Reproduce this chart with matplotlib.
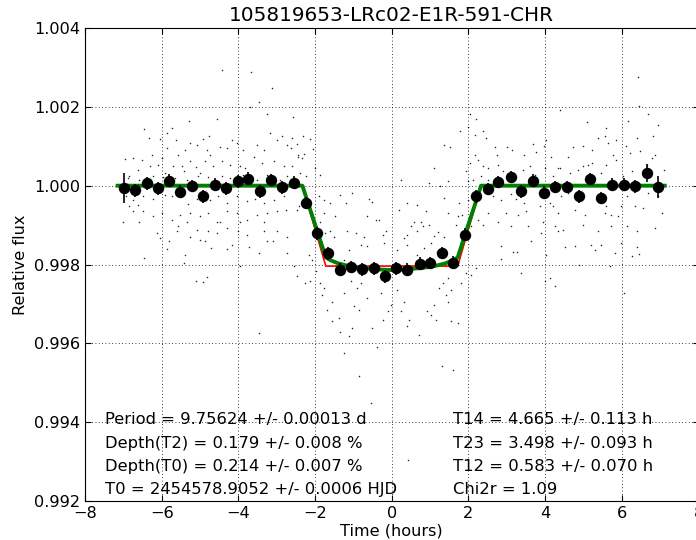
import numpy as np
import matplotlib
matplotlib.use("Agg")
import matplotlib.pyplot as plt

title = "105819653-LRc02-E1R-591-CHR"

# binned light curve (hours, relative flux, error)
bin_t = [-6.98, -6.69, -6.39, -6.10, -5.80, -5.52, -5.21, -4.92, -4.62, -4.33, -4.02, -3.74,
         -3.43, -3.14, -2.85, -2.55, -2.24, -1.96, -1.66, -1.35, -1.05, -0.77, -0.47, -0.18,
         0.12, 0.41, 0.73, 1.01, 1.32, 1.60, 1.91, 2.20, 2.51, 2.78, 3.10, 3.38,
         3.69, 3.98, 4.27, 4.57, 4.88, 5.16, 5.46, 5.75, 6.07, 6.35, 6.66, 6.94]
bin_f = [0.99994, 0.99988, 1.00006, 0.99993, 1.00013, 0.99985, 0.99999, 0.99973, 1.00003, 0.99993, 1.00011, 1.00018,
         0.99986, 1.00014, 0.99996, 1.00008, 0.99956, 0.99879, 0.99828, 0.99787, 0.99794, 0.99788, 0.99790, 0.99770,
         0.99790, 0.99787, 0.99802, 0.99804, 0.99829, 0.99805, 0.99876, 0.99973, 0.99992, 1.00009, 1.00022, 0.99986,
         1.00013, 0.99982, 0.99997, 0.99997, 0.99973, 1.00017, 0.99969, 1.00003, 1.00003, 0.99998, 1.00032, 0.99997]
bin_e = [0.00038, 0.00016, 0.00016, 0.00016, 0.00016, 0.00016, 0.00016, 0.00016, 0.00016, 0.00016, 0.00016, 0.00016,
         0.00016, 0.00016, 0.00016, 0.00016, 0.00016, 0.00016, 0.00016, 0.00016, 0.00016, 0.00016, 0.00016, 0.00016,
         0.00016, 0.00016, 0.00016, 0.00016, 0.00016, 0.00016, 0.00016, 0.00016, 0.00016, 0.00016, 0.00016, 0.00016,
         0.00016, 0.00016, 0.00016, 0.00016, 0.00016, 0.00016, 0.00016, 0.00016, 0.00016, 0.00016, 0.00022, 0.00028]

# limb darkened model (green) and trapezoid (red)
model_t = [-7.15, -2.33, -2.2, -2.0, -1.85, -1.72, -1.6, -1.4, -1.2, -1.0, -0.75, -0.5, -0.25, 0.0,
           0.25, 0.5, 0.75, 1.0, 1.2, 1.4, 1.6, 1.72, 1.85, 2.0, 2.2, 2.33, 7.12]
model_f = [1.0, 1.0, 0.99961, 0.99902, 0.99857, 0.99818, 0.99811, 0.99803, 0.99798, 0.99794, 0.99791, 0.99789, 0.99787, 0.99786,
           0.99787, 0.99789, 0.99791, 0.99794, 0.99798, 0.99803, 0.99811, 0.99818, 0.99857, 0.99902, 0.99961, 1.0, 1.0]
trap_t = [-7.15, -2.33, -1.72, 1.72, 2.33, 7.12]
trap_f = [1.0, 1.0, 0.99796, 0.99796, 1.0, 1.0]

# unbinned photometry
dots = [
    (-4.43, 1.00293), (-3.68, 1.00288), (-3.12, 1.00248), (-3.47, 1.00213), (-3.69, 1.00199), (-5.29, 1.00163),
    (-4.56, 1.00170), (-3.25, 1.00181), (-6.47, 1.00144), (-5.74, 1.00146), (-5.85, 1.00134), (-5.63, 1.00117),
    (-6.05, 1.00118), (-6.34, 1.00121), (-4.91, 1.00118), (-4.76, 1.00127), (-5.26, 1.00108), (-5.87, 1.00096),
    (-5.39, 1.00091), (-5.57, 1.00079), (-5.09, 1.00102), (-4.83, 1.00091), (-4.47, 1.00097), (-4.30, 1.00096),
    (-4.17, 1.00117), (-4.04, 1.00108), (-3.87, 1.00091), (-3.52, 1.00102), (-3.34, 1.00091), (-3.17, 1.00134),
    (-3.00, 1.00117), (-2.86, 1.00125), (-2.73, 1.00102), (-6.96, 1.00068), (-6.75, 1.00070), (-6.50, 1.00064),
    (-6.26, 1.00079), (-6.00, 1.00070), (-5.70, 1.00051), (-5.48, 1.00049), (-5.26, 1.00062), (-5.10, 1.00047),
    (-4.87, 1.00062), (-4.65, 1.00051), (-4.43, 1.00062), (-4.22, 1.00053), (-3.95, 1.00049), (-3.82, 1.00045),
    (-3.60, 1.00074), (-3.39, 1.00058), (-3.08, 1.00062), (-2.82, 1.00049), (-6.85, 1.00024), (-6.61, 1.00041),
    (-6.30, 1.00049), (-6.09, 1.00053), (-5.92, 1.00032), (-5.43, 1.00036), (-5.00, 1.00032), (-4.74, 1.00079),
    (-6.88, 1.00019), (-6.58, 1.00015), (-6.22, 1.00024), (-5.96, 1.00022), (-5.65, 1.00019), (-5.35, 1.00015),
    (-5.04, 1.00024), (-4.78, 1.00022), (-4.43, 1.00024), (-4.22, 1.00019), (-3.87, 1.00028), (-3.52, 1.00015),
    (-3.26, 1.00028), (-2.91, 1.00015), (-2.73, 1.00024), (-6.92, 0.99973), (-6.75, 0.99964), (-6.49, 0.99973),
    (-6.22, 0.99966), (-5.92, 0.99977), (-5.74, 0.99973), (-5.31, 0.99954), (-5.09, 0.99966), (-4.74, 0.99963),
    (-4.52, 0.99973), (-4.30, 0.99956), (-4.04, 0.99973), (-3.78, 0.99960), (-3.56, 0.99966), (-3.34, 0.99956),
    (-3.08, 0.99964), (-2.82, 0.99973), (-6.85, 0.99948), (-6.61, 0.99952), (-6.75, 0.99935), (-6.49, 0.99935),
    (-6.22, 0.99922), (-6.00, 0.99931), (-5.74, 0.99914), (-5.52, 0.99926), (-5.26, 0.99931), (-5.00, 0.99922),
    (-4.78, 0.99931), (-4.56, 0.99909), (-4.30, 0.99935), (-4.04, 0.99931), (-3.78, 0.99914), (-3.52, 0.99926),
    (-3.26, 0.99931), (-3.00, 0.99935), (-2.77, 0.99939), (-7.01, 0.99907), (-6.58, 0.99907), (-5.57, 0.99897),
    (-5.35, 0.99907), (-4.47, 0.99907), (-3.95, 0.99907), (-3.34, 0.99907), (-6.13, 0.99880), (-5.61, 0.99884),
    (-5.26, 0.99871), (-5.09, 0.99888), (-4.78, 0.99884), (-4.56, 0.99880), (-4.30, 0.99893), (-4.00, 0.99884),
    (-3.78, 0.99876), (-3.34, 0.99884), (-3.00, 0.99884), (-2.73, 0.99871), (-6.05, 0.99867), (-5.00, 0.99863),
    (-6.47, 0.99816), (-5.85, 0.99839), (-5.80, 0.99859), (-5.39, 0.99825), (-5.41, 0.99804), (-5.10, 0.99759),
    (-4.91, 0.99755), (-4.83, 0.99768), (-4.87, 0.99859), (-4.72, 0.99842), (-4.30, 0.99839), (-4.17, 0.99850),
    (-3.71, 0.99844), (-3.47, 0.99829), (-3.45, 0.99626), (-3.26, 0.99859), (-3.10, 0.99859), (-2.73, 0.99829),
    (-3.95, 0.99797),
    (-2.57, 1.00174), (-2.60, 1.00121), (-2.31, 1.00125), (-2.14, 1.00118), (-2.47, 1.00107), (-2.05, 1.00093),
    (-2.63, 1.00096), (-2.44, 1.00079), (-2.30, 1.00081), (-2.34, 1.00070), (-2.45, 1.00074), (-2.23, 1.00024),
    (-1.99, 1.00045), (-1.86, 1.00028), (-2.60, 1.00049), (-2.38, 1.00032), (-1.90, 0.99973), (-1.77, 0.99964),
    (-1.60, 0.99956), (-2.43, 0.99948), (-2.47, 0.99939), (-1.77, 0.99931), (-1.88, 0.99909), (-1.47, 0.99922),
    (-1.34, 0.99977), (-1.03, 0.99981), (-1.20, 0.99956), (-0.59, 0.99966), (-0.52, 0.99958), (-0.65, 0.99922),
    (-0.42, 0.99914), (-0.33, 0.99914), (-0.94, 0.99880), (-1.16, 0.99884), (-1.60, 0.99884), (-1.73, 0.99880),
    (-1.51, 0.99871), (-0.72, 0.99871), (-0.24, 0.99876), (-0.16, 0.99884), (0.24, 1.00015), (0.40, 0.99956),
    (0.19, 0.99939), (0.67, 0.99950), (0.89, 0.99935), (1.11, 1.00045), (0.98, 1.00008), (1.27, 0.99998),
    (1.37, 1.00102), (1.53, 1.00098), (1.46, 1.00011), (1.36, 0.99969), (1.46, 0.99931), (1.76, 0.99956),
    (1.82, 0.99926), (0.76, 0.99909), (0.98, 0.99901), (0.81, 0.99897), (0.58, 0.99907), (0.50, 0.99897),
    (0.67, 0.99884), (0.32, 0.99867), (0.40, 0.99876), (1.11, 0.99873), (1.20, 0.99882), (1.37, 0.99871),
    (1.67, 0.99901), (1.72, 0.99922), (1.98, 0.99964), (1.98, 1.00011), (1.94, 1.00036), (2.03, 1.00058),
    (2.16, 1.00079), (2.24, 1.00066), (2.37, 1.00049), (2.50, 1.00045), (2.46, 1.00121), (2.33, 1.00024),
    (2.11, 1.00015), (2.50, 1.00015), (2.07, 0.99897), (2.24, 0.99914), (2.50, 0.99931), (2.37, 0.99901),
    (1.85, 0.99884),
    (-2.16, 0.99825), (-2.07, 0.99812), (-1.98, 0.99783), (-2.25, 0.99753), (-2.12, 0.99757), (-1.82, 0.99723),
    (-1.77, 0.99740), (-1.56, 0.99706), (-1.69, 0.99685), (-1.38, 0.99664), (-1.34, 0.99630), (-1.12, 0.99618),
    (-1.25, 0.99575), (-1.03, 0.99639), (-1.25, 0.99728), (-1.06, 0.99757), (-0.90, 0.99740), (-0.81, 0.99753),
    (-0.86, 0.99685), (-0.99, 0.99694), (-0.64, 0.99715), (-0.51, 0.99639), (-0.24, 0.99660), (-0.11, 0.99681),
    (-0.03, 0.99698), (-0.38, 0.99592), (-0.29, 0.99728), (0.15, 0.99736), (0.32, 0.99706), (0.24, 0.99681),
    (0.45, 0.99660), (0.41, 0.99643), (0.72, 0.99622), (0.93, 0.99681), (1.02, 0.99673), (1.15, 0.99660),
    (1.09, 0.99698), (1.24, 0.99740), (1.41, 0.99723), (1.54, 0.99736), (1.46, 0.99706), (1.33, 0.99753),
    (1.46, 0.99766), (1.54, 0.99656), (1.72, 0.99651), (1.59, 0.99533), (1.30, 0.99542), (-0.86, 0.99518),
    (-0.55, 0.99448), (-1.25, 0.99812), (-1.12, 0.99838), (-0.81, 0.99850), (-0.64, 0.99846), (-0.20, 0.99855),
    (0.15, 0.99838), (0.41, 0.99850), (0.85, 0.99842), (0.67, 0.99825), (1.02, 0.99855), (1.19, 0.99833),
    (1.94, 0.99778), (1.81, 0.99753), (2.20, 0.99791), (2.07, 0.99774), (-2.56, 0.99795), (-2.47, 0.99770),
    (-1.86, 0.99753), (-1.56, 0.99656), (0.43, 0.99305),
    (6.43, 1.00276), (6.46, 1.00201), (2.05, 1.00183), (2.20, 1.00168), (2.00, 1.00149), (1.78, 1.00140),
    (2.38, 1.00138), (4.38, 1.00191), (5.08, 1.00161), (5.60, 1.00146), (6.17, 1.00163), (6.69, 1.00183),
    (6.94, 1.00155), (2.18, 1.00129), (2.68, 1.00098), (2.75, 1.00079), (3.01, 1.00098), (3.13, 1.00091),
    (3.46, 1.00079), (3.68, 1.00107), (3.77, 1.00085), (3.97, 1.00100), (4.03, 1.00117), (4.16, 1.00073),
    (3.99, 1.00045), (4.34, 1.00045), (4.60, 1.00074), (4.73, 1.00098), (4.99, 1.00100), (5.21, 1.00090),
    (5.12, 1.00053), (4.99, 1.00049), (5.38, 1.00121), (5.56, 1.00125), (5.65, 1.00108), (5.86, 1.00117),
    (5.78, 1.00079), (5.86, 1.00066), (6.12, 1.00100), (6.21, 1.00083), (6.39, 1.00121), (6.47, 1.00087),
    (6.78, 1.00070), (6.87, 1.00079), (6.82, 1.00125), (6.65, 1.00053), (7.09, 1.00041), (2.77, 1.00053),
    (2.90, 1.00036), (3.42, 1.00041), (3.60, 1.00049), (3.73, 1.00028), (4.21, 1.00024), (4.38, 1.00045),
    (4.64, 1.00032), (4.86, 1.00041), (5.21, 1.00058), (5.47, 1.00032), (5.60, 1.00053), (6.04, 1.00024),
    (6.26, 1.00036), (2.64, 0.99973), (2.85, 0.99964), (3.12, 0.99980), (3.25, 0.99966), (3.46, 0.99956),
    (2.98, 0.99931), (3.29, 0.99926), (3.51, 0.99935), (2.77, 0.99909), (3.12, 0.99897), (3.55, 0.99897),
    (3.86, 0.99948), (4.12, 0.99956), (4.34, 0.99931), (4.21, 0.99948), (4.42, 0.99973), (4.60, 0.99981),
    (3.94, 0.99909), (4.25, 0.99897), (4.47, 0.99888), (4.77, 0.99939), (5.03, 0.99926), (4.99, 0.99901),
    (5.38, 0.99973), (5.60, 0.99949), (5.56, 0.99931), (5.73, 0.99926), (5.91, 0.99924), (5.99, 0.99948),
    (6.13, 0.99973), (6.34, 0.99948), (6.56, 0.99943), (6.69, 0.99981), (6.95, 0.99973), (7.04, 0.99931),
    (5.73, 0.99897), (6.13, 0.99897), (6.39, 0.99884), (6.87, 0.99893), (5.38, 0.99884), (3.90, 0.99880),
    (4.34, 0.99884),
    (2.85, 0.99848), (3.16, 0.99833), (3.27, 0.99833), (2.85, 0.99814), (3.36, 0.99778), (3.62, 0.99859),
    (4.03, 0.99825), (4.00, 0.99757), (4.12, 0.99766), (4.25, 0.99745), (4.51, 0.99844), (4.79, 0.99848),
    (4.88, 0.99800), (5.19, 0.99850), (5.30, 0.99838), (5.47, 0.99850), (5.69, 0.99795), (5.82, 0.99829),
    (5.99, 0.99855), (6.06, 0.99728), (6.26, 0.99821), (6.39, 0.99844), (6.45, 0.99827),
]

left_text = ["Period = 9.75624 +/- 0.00013 d",
             "Depth(T2) = 0.179 +/- 0.008 %",
             "Depth(T0) = 0.214 +/- 0.007 %",
             "T0 = 2454578.9052 +/- 0.0006 HJD"]
right_text = ["T14 = 4.665 +/- 0.113 h",
              "T23 = 3.498 +/- 0.093 h",
              "T12 = 0.583 +/- 0.070 h",
              "Chi2r = 1.09"]
text_rows = [0.99406, 0.99347, 0.99288, 0.99228]

plt.rcParams['font.family'] = 'DejaVu Sans'
plt.rcParams['font.size'] = 11.6
plt.rcParams['xtick.direction'] = 'in'
plt.rcParams['ytick.direction'] = 'in'
plt.rcParams['xtick.top'] = True
plt.rcParams['ytick.right'] = True
plt.rcParams['xtick.major.size'] = 4
plt.rcParams['ytick.major.size'] = 4

fig = plt.figure(figsize=(6.96, 5.4), dpi=100)
ax = fig.add_axes([0.1221, 0.0722, 0.8815, 0.8759])

dt = np.array([d[0] for d in dots])
df = np.array([d[1] for d in dots])
ax.plot(dt, df, 'o', color='0.15', ms=1.1, mew=0, zorder=1)
ax.plot(trap_t, trap_f, color='r', lw=1.2, zorder=2)
ax.plot(model_t, model_f, color='g', lw=2.8, zorder=3)
ax.errorbar(bin_t, bin_f, yerr=bin_e, fmt='o', color='k', ms=7.2,
            elinewidth=1.2, capsize=0, zorder=4)

for i in range(4):
    ax.text(-7.47, text_rows[i], left_text[i], ha='left', va='center', fontsize=11.8)
    ax.text(1.59, text_rows[i], right_text[i], ha='left', va='center', fontsize=11.8)

ax.set_xlim(-8, 8)
ax.set_ylim(0.992, 1.004)
ax.set_xticks(np.arange(-8, 9, 2))
ax.set_yticks([0.992, 0.994, 0.996, 0.998, 1.000, 1.002, 1.004])
ax.yaxis.set_major_formatter(plt.FormatStrFormatter('%.3f'))
ax.grid(True, color='k', linestyle=(0, (1, 3)), linewidth=0.6)
ax.set_xlabel("Time (hours)", labelpad=2)
ax.set_ylabel("Relative flux")
ax.set_title(title, fontsize=14.4, pad=5)

fig.savefig("out.png", dpi=100)
